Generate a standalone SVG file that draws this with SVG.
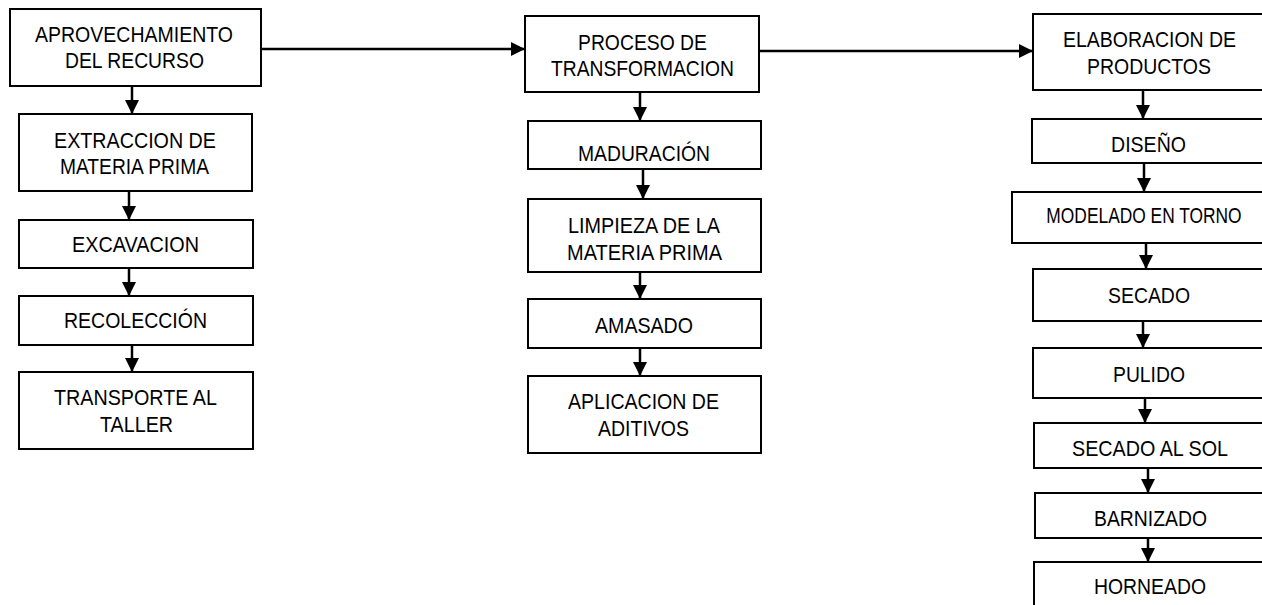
<svg xmlns="http://www.w3.org/2000/svg" width="1262" height="605" viewBox="0 0 1262 605">
<style>
.box{fill:#fff;stroke:#000;stroke-width:2}
.lbl{font-family:"Liberation Sans",Arial,sans-serif;font-size:22px;fill:#000;text-anchor:middle}
.con{stroke:#000;stroke-width:2.5;fill:none}
</style>
<defs>
<marker id="ah" markerUnits="userSpaceOnUse" markerWidth="15" markerHeight="15" refX="14" refY="7" orient="auto" viewBox="0 0 15 15">
<path d="M0,0 L14,7 L0,14 z" fill="#000"/>
</marker>
</defs>
<rect width="1262" height="605" fill="#fff"/>
<g id="connectors">
<line class="con" x1="261" y1="49" x2="525" y2="49" marker-end="url(#ah)"/>
<line class="con" x1="759" y1="51" x2="1033" y2="51" marker-end="url(#ah)"/>
<line class="con" x1="132" y1="86" x2="132" y2="114" marker-end="url(#ah)"/>
<line class="con" x1="129" y1="191" x2="129" y2="220" marker-end="url(#ah)"/>
<line class="con" x1="129" y1="268" x2="129" y2="296" marker-end="url(#ah)"/>
<line class="con" x1="132" y1="345" x2="132" y2="372" marker-end="url(#ah)"/>
<line class="con" x1="640" y1="92" x2="640" y2="121" marker-end="url(#ah)"/>
<line class="con" x1="643" y1="169" x2="643" y2="199" marker-end="url(#ah)"/>
<line class="con" x1="640" y1="272" x2="640" y2="299" marker-end="url(#ah)"/>
<line class="con" x1="640" y1="348" x2="640" y2="376" marker-end="url(#ah)"/>
<line class="con" x1="1143" y1="90" x2="1143" y2="119" marker-end="url(#ah)"/>
<line class="con" x1="1144" y1="163" x2="1144" y2="192" marker-end="url(#ah)"/>
<line class="con" x1="1146" y1="243" x2="1146" y2="269" marker-end="url(#ah)"/>
<line class="con" x1="1143" y1="321" x2="1143" y2="348" marker-end="url(#ah)"/>
<line class="con" x1="1145" y1="398" x2="1145" y2="423" marker-end="url(#ah)"/>
<line class="con" x1="1148" y1="468" x2="1148" y2="493" marker-end="url(#ah)"/>
<line class="con" x1="1148" y1="538" x2="1148" y2="562" marker-end="url(#ah)"/>
</g>
<g id="n-aprovechamiento">
<rect class="box" x="10" y="9" width="251" height="77"/>
<text class="lbl" x="134" y="42" textLength="198" lengthAdjust="spacingAndGlyphs">APROVECHAMIENTO</text>
<text class="lbl" x="134.5" y="68" textLength="139" lengthAdjust="spacingAndGlyphs">DEL RECURSO</text>
</g>
<g id="n-extraccion">
<rect class="box" x="19" y="114" width="233" height="77"/>
<text class="lbl" x="135" y="148" textLength="162" lengthAdjust="spacingAndGlyphs">EXTRACCION DE</text>
<text class="lbl" x="134.5" y="174" textLength="149" lengthAdjust="spacingAndGlyphs">MATERIA PRIMA</text>
</g>
<g id="n-excavacion">
<rect class="box" x="19" y="220" width="234" height="48"/>
<text class="lbl" x="135.5" y="252" textLength="127" lengthAdjust="spacingAndGlyphs">EXCAVACION</text>
</g>
<g id="n-recoleccion">
<rect class="box" x="19" y="296" width="234" height="49"/>
<text class="lbl" x="135.5" y="328" textLength="143" lengthAdjust="spacingAndGlyphs">RECOLECCIÓN</text>
</g>
<g id="n-transporte">
<rect class="box" x="19" y="372" width="234" height="77"/>
<text class="lbl" x="135.5" y="405" textLength="163" lengthAdjust="spacingAndGlyphs">TRANSPORTE AL</text>
<text class="lbl" x="136.5" y="432" textLength="73" lengthAdjust="spacingAndGlyphs">TALLER</text>
</g>
<g id="n-proceso">
<rect class="box" x="525" y="16" width="234" height="76"/>
<text class="lbl" x="642.5" y="50" textLength="129" lengthAdjust="spacingAndGlyphs">PROCESO DE</text>
<text class="lbl" x="642.5" y="76" textLength="183" lengthAdjust="spacingAndGlyphs">TRANSFORMACION</text>
</g>
<g id="n-maduracion">
<rect class="box" x="528" y="121" width="233" height="48"/>
<text class="lbl" x="644" y="161" textLength="132" lengthAdjust="spacingAndGlyphs">MADURACIÓN</text>
</g>
<g id="n-limpieza">
<rect class="box" x="528" y="199" width="233" height="73"/>
<text class="lbl" x="644" y="233" textLength="152" lengthAdjust="spacingAndGlyphs">LIMPIEZA DE LA</text>
<text class="lbl" x="644.5" y="260" textLength="155" lengthAdjust="spacingAndGlyphs">MATERIA PRIMA</text>
</g>
<g id="n-amasado">
<rect class="box" x="528" y="299" width="233" height="49"/>
<text class="lbl" x="644" y="333" textLength="98" lengthAdjust="spacingAndGlyphs">AMASADO</text>
</g>
<g id="n-aplicacion">
<rect class="box" x="528" y="376" width="233" height="77"/>
<text class="lbl" x="643.5" y="409" textLength="151" lengthAdjust="spacingAndGlyphs">APLICACION DE</text>
<text class="lbl" x="643.5" y="436" textLength="91" lengthAdjust="spacingAndGlyphs">ADITIVOS</text>
</g>
<g id="n-elaboracion">
<rect class="box" x="1033" y="14" width="235" height="76"/>
<text class="lbl" x="1149.5" y="47" textLength="173" lengthAdjust="spacingAndGlyphs">ELABORACION DE</text>
<text class="lbl" x="1149" y="74" textLength="124" lengthAdjust="spacingAndGlyphs">PRODUCTOS</text>
</g>
<g id="n-diseno">
<rect class="box" x="1032" y="119" width="236" height="44"/>
<text class="lbl" x="1148.5" y="152" textLength="75" lengthAdjust="spacingAndGlyphs">DISEÑO</text>
</g>
<g id="n-modelado">
<rect class="box" x="1012" y="192" width="256" height="51"/>
<text class="lbl" transform="translate(1144 223) scale(0.79 1)" x="0" y="0">MODELADO EN TORNO</text>
</g>
<g id="n-secado">
<rect class="box" x="1033" y="269" width="235" height="52"/>
<text class="lbl" x="1149" y="303" textLength="82" lengthAdjust="spacingAndGlyphs">SECADO</text>
</g>
<g id="n-pulido">
<rect class="box" x="1033" y="348" width="235" height="50"/>
<text class="lbl" x="1149" y="382" textLength="72" lengthAdjust="spacingAndGlyphs">PULIDO</text>
</g>
<g id="n-secado-sol">
<rect class="box" x="1034" y="423" width="234" height="45"/>
<text class="lbl" x="1150" y="456" textLength="156" lengthAdjust="spacingAndGlyphs">SECADO AL SOL</text>
</g>
<g id="n-barnizado">
<rect class="box" x="1035" y="493" width="233" height="45"/>
<text class="lbl" x="1150.5" y="526" textLength="113" lengthAdjust="spacingAndGlyphs">BARNIZADO</text>
</g>
<g id="n-horneado">
<rect class="box" x="1034" y="562" width="234" height="60"/>
<text class="lbl" x="1150" y="594" textLength="112" lengthAdjust="spacingAndGlyphs">HORNEADO</text>
</g>
</svg>
